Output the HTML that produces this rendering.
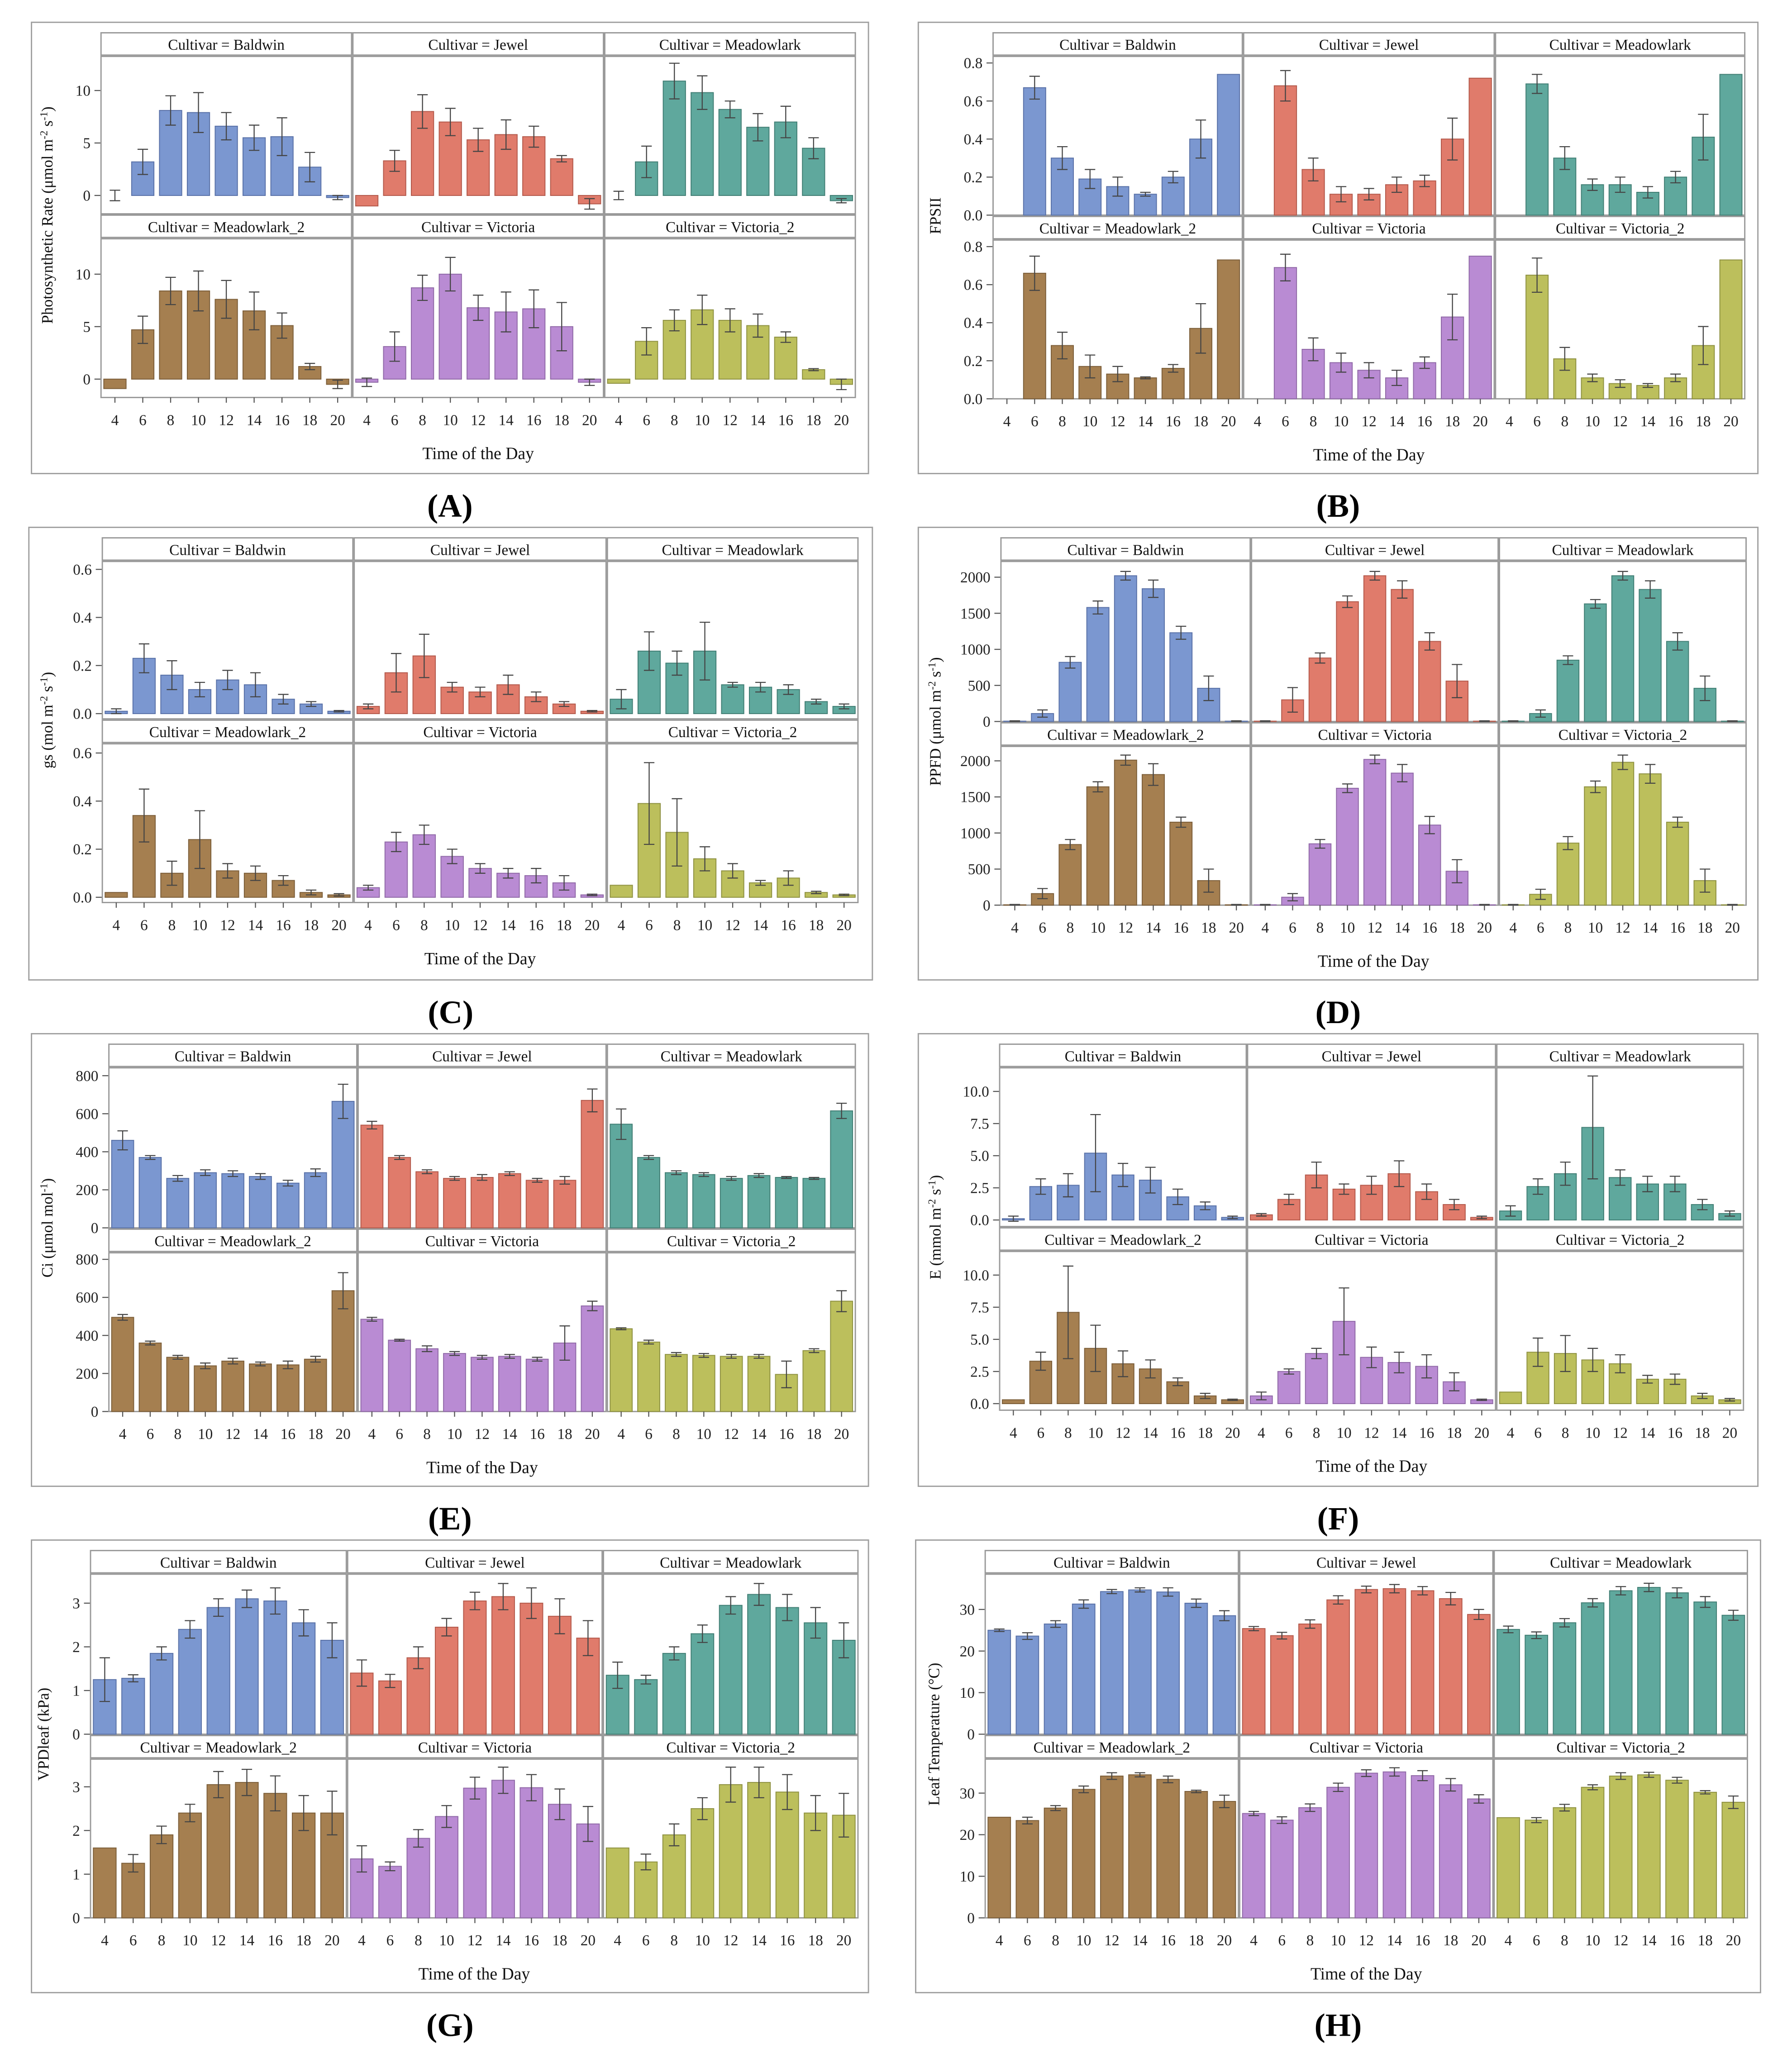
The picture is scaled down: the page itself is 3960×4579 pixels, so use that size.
<!DOCTYPE html>
<html><head><meta charset="utf-8"><style>
html,body{margin:0;padding:0;background:#fff;}
svg{display:block;font-family:"Liberation Serif",serif;}
</style></head><body>
<svg id="fig" width="3960" height="4579" viewBox="0 0 1366 1579.5" preserveAspectRatio="none" xmlns="http://www.w3.org/2000/svg"></svg>
<script>
const categories=[4,6,8,10,12,14,16,18,20];
const cultivars=["Baldwin","Jewel","Meadowlark","Meadowlark_2","Victoria","Victoria_2"];
const aVals=[[0.0,3.2,8.1,7.9,6.6,5.5,5.6,2.7,-0.2],[-1.0,3.3,8.0,7.0,5.3,5.8,5.6,3.5,-0.8],[0.0,3.2,10.9,9.8,8.2,6.5,7.0,4.5,-0.5],[-0.9,4.7,8.4,8.4,7.6,6.5,5.1,1.2,-0.5],[-0.3,3.1,8.7,10.0,6.8,6.4,6.7,5.0,-0.3],[-0.4,3.6,5.6,6.6,5.6,5.1,4.0,0.9,-0.5]];
const aErr=[[0.5,1.2,1.4,1.9,1.3,1.2,1.8,1.4,0.2],[0,1,1.6,1.3,1.1,1.4,1,0.3,0.5],[0.4,1.5,1.7,1.6,0.8,1.3,1.5,1,0.2],[0,1.3,1.3,1.9,1.8,1.8,1.2,0.3,0.4],[0.4,1.4,1.2,1.6,1.2,1.9,1.8,2.3,0.3],[0,1.3,1,1.4,1.1,1.1,0.5,0.1,0.5]];
const bVals=[[0,.67,.30,.19,.15,.11,.20,.40,.74],[0,.68,.24,.11,.11,.16,.18,.40,.72],[0,.69,.30,.16,.16,.12,.20,.41,.74],[0,.66,.28,.17,.13,.11,.16,.37,.73],[0,.69,.26,.19,.15,.11,.19,.43,.75],[0,.65,.21,.11,.08,.07,.11,.28,.73]];
const bErr=[[0,.06,.06,.05,.05,.01,.03,.1,0],[0,.08,.06,.04,.03,.04,.03,.11,0],[0,.05,.06,.03,.04,.03,.03,.12,0],[0,.09,.07,.06,.04,.005,.02,.13,0],[0,.07,.06,.05,.04,.04,.03,.12,0],[0,.09,.06,.02,.02,.01,.02,.1,0]];
const cVals=[[.01,.23,.16,.10,.14,.12,.06,.04,.01],[.03,.17,.24,.11,.09,.12,.07,.04,.01],[.06,.26,.21,.26,.12,.11,.10,.05,.03],[.02,.34,.10,.24,.11,.10,.07,.02,.01],[.04,.23,.26,.17,.12,.10,.09,.06,.01],[.05,.39,.27,.16,.11,.06,.08,.02,.01]];
const cErr=[[.01,.06,.06,.03,.04,.05,.02,.01,.003],[.01,.08,.09,.02,.02,.04,.02,.01,.003],[.04,.08,.05,.12,.01,.02,.02,.01,.01],[0,.11,.05,.12,.03,.03,.02,.01,.005],[.01,.04,.04,.03,.02,.02,.03,.03,.003],[0,.17,.14,.05,.03,.01,.03,.005,.003]];
const dVals=[[5,110,820,1580,2020,1840,1230,460,5],[5,300,880,1660,2020,1830,1110,560,5],[5,110,850,1630,2020,1830,1110,460,5],[5,160,840,1640,2010,1810,1150,340,5],[5,110,850,1620,2020,1830,1110,470,5],[5,150,860,1640,1980,1820,1150,340,5]];
const dErr=[[5,50,80,90,60,120,90,170,5],[5,170,70,80,60,120,120,230,5],[5,50,60,60,60,120,120,170,5],[5,70,70,70,70,150,70,160,5],[5,50,60,60,60,120,120,160,5],[5,70,90,80,100,130,70,160,5]];
const eVals=[[460,370,260,290,285,270,235,290,665],[540,370,295,260,265,285,250,250,670],[545,370,290,280,260,275,265,260,615],[495,360,285,240,265,250,245,275,635],[485,375,330,305,285,290,275,360,555],[435,365,300,295,290,290,195,320,580]];
const eErr=[[50,10,15,15,15,15,15,20,90],[20,10,10,10,15,10,10,20,60],[80,10,10,10,10,10,5,5,40],[15,10,10,15,15,10,20,15,95],[10,5,15,10,10,10,10,90,25],[5,10,10,10,10,10,70,10,55]];
const fVals=[[.1,2.6,2.7,5.2,3.5,3.1,1.8,1.1,.2],[.4,1.6,3.5,2.4,2.7,3.6,2.2,1.2,.2],[.7,2.6,3.6,7.2,3.3,2.8,1.2+1.6,1.2,.5],[.3,3.3,7.1,4.3,3.1,2.7,1.7,.6,.3],[.6,2.5,3.9,6.4,3.6,3.2,2.9,1.7,.3],[.9,4,3.9,3.4,3.1,1.9,1.9,.6,.3]];
const fErr=[[.2,.6,.9,3,.9,1,.6,.3,.1],[.1,.4,1,.4,.7,1,.6,.4,.1],[.4,.6,.9,4,.6,.6,.6,.4,.2],[0,.7,3.6,1.8,1,.7,.3,.2,.05],[.3,.2,.4,2.6,.8,.8,.9,.7,.05],[0,1.1,1.4,.9,.7,.3,.4,.2,.1]];
const gVals=[[1.25,1.28,1.85,2.4,2.9,3.1,3.05,2.55,2.15],[1.4,1.22,1.75,2.45,3.05,3.15,3.0,2.7,2.2],[1.35,1.25,1.85,2.3,2.95,3.2,2.9,2.55,2.15],[1.6,1.25,1.9,2.4,3.05,3.1,2.85,2.4,2.4],[1.35,1.18,1.82,2.32,2.97,3.15,2.98,2.6,2.15],[1.6,1.28,1.9,2.5,3.05,3.1,2.88,2.4,2.35]];
const gErr=[[.5,.08,.15,.2,.2,.2,.3,.3,.4],[.3,.15,.25,.2,.2,.3,.35,.4,.4],[.3,.1,.15,.2,.2,.25,.3,.35,.4],[0,.2,.2,.2,.3,.3,.4,.4,.5],[.3,.1,.2,.25,.25,.3,.3,.35,.4],[0,.18,.25,.25,.4,.35,.4,.4,.5]];
const hVals=[[25,23.6,26.5,31.3,34.3,34.7,34.2,31.5,28.5],[25.4,23.7,26.5,32.3,34.8,35,34.5,32.6,28.8],[25.2,23.8,26.8,31.6,34.5,35.3,34,31.8,28.6],[24.2,23.4,26.4,30.9,34.1,34.4,33.3,30.4,28],[25.1,23.5,26.5,31.4,34.8,35.1,34.2,32,28.6],[24.1,23.5,26.5,31.4,34.1,34.4,33.1,30.2,27.8]];
const hErr=[[.3,.8,.8,1,.5,.5,1,1,1.2],[.5,.8,1,1,.8,1,1,1.5,1.2],[.8,.8,1,1,1,1,1.2,1.3,1.2],[0,.8,.6,.8,.8,.5,.8,.3,1.5],[.5,.8,.9,1,.8,1,1.2,1.5,1],[0,.6,.8,.6,.8,.6,.7,.4,1.5]];
const aTicks=[0,5,10],bTicks=[0,.2,.4,.6,.8],cTicks=[0,.2,.4,.6],dTicks=[0,500,1000,1500,2000],eTicks=[0,200,400,600,800],fTicks=[0,2.5,5,7.5,10],gTicks=[0,1,2,3],hTicks=[0,10,20,30];

const fills=["#7b97d0","#e07b6b","#5fa89d","#a57f50","#b98bd3","#bcbf5c"];
const strokes=["#5a72a8","#b45a4c","#427f75","#7d5f3a","#916aa8","#8f9242"];
const NS="http://www.w3.org/2000/svg";
const svg=document.getElementById('fig');
function mk(tag,attrs,parent,txt){const e=document.createElementNS(NS,tag);for(const k in attrs)e.setAttribute(k,attrs[k]);if(txt!==undefined)e.textContent=txt;(parent||svg).appendChild(e);return e;}

const panels=[
 {id:"A",vals:aVals,err:aErr,ticks:aTicks,fmt:v=>String(v),box:[24,17,662,361],cols:[77,268,460,652],hdr:25,bot:163,zero:149,ppu:8,title:["Photosynthetic Rate (μmol m","-2"," s","-1",")"],tx:40},
 {id:"B",vals:bVals,err:bErr,ticks:bTicks,fmt:v=>v.toFixed(1),box:[700,17,1340,361],cols:[757,947,1139,1330],hdr:25,bot:164,zero:164,ppu:145,title:["FPSII"],tx:717},
 {id:"C",vals:cVals,err:cErr,ticks:cTicks,fmt:v=>v.toFixed(1),box:[22,402,665,747],cols:[78,269,462,654],hdr:410,bot:548,zero:544,ppu:183.3,title:["gs (mol m","-2"," s","-1",")"],tx:40},
 {id:"D",vals:dVals,err:dErr,ticks:dTicks,fmt:v=>String(v),box:[700,402,1340,747],cols:[763,953,1142,1331],hdr:410,bot:550,zero:550,ppu:0.055,title:["PPFD (μmol m","-2"," s","-1",")"],tx:717},
 {id:"E",vals:eVals,err:eErr,ticks:eTicks,fmt:v=>String(v),box:[24,788,662,1133],cols:[83,272,462,652],hdr:796,bot:936,zero:936,ppu:0.145,title:["Ci (μmol mol","-1",")"],tx:40},
 {id:"F",vals:fVals,err:fErr,ticks:fTicks,fmt:v=>v.toFixed(1),box:[700,788,1340,1133],cols:[762,950,1140,1329],hdr:796,bot:935,zero:930,ppu:9.8,title:["E (mmol m","-2"," s","-1",")"],tx:717},
 {id:"G",vals:gVals,err:gErr,ticks:gTicks,fmt:v=>String(v),box:[24,1174,662,1519],cols:[69,264,459,654],hdr:1182,bot:1322,zero:1322,ppu:33.3,title:["VPDleaf (kPa)"],tx:37},
 {id:"H",vals:hVals,err:hErr,ticks:hTicks,fmt:v=>String(v),box:[698,1174,1342,1519],cols:[751,944,1138,1332],hdr:1182,bot:1322,zero:1322,ppu:3.17,title:["Leaf Temperature (°C)"],tx:716}
];

panels.forEach(p=>{
 const g=mk('g',{});
 
 
 const [bx0,by0,bx1,by1]=p.box;
 const fr=mk('rect',{x:bx0,y:by0,width:bx1-bx0,height:by1-by0,fill:'none',stroke:'#a0a0a0','stroke-width':1},g);
 
 const lab=mk('text',{x:(bx0+bx1)/2,y:by1+33,'text-anchor':'middle','font-size':25,'font-weight':'bold',fill:'#000'},g,'('+p.id+')');
 
 const rowOff=140;
 const axisL=p.cols[0];
 for(let r=0;r<2;r++){
  const hdrTop=r===0?p.hdr:p.bot+1;
  const plotTop=hdrTop+18;
  const plotBot=p.bot+r*rowOff;
  const zero=p.zero+r*rowOff;
  const yOf=v=>zero-v*p.ppu;
  // y ticks
  p.ticks.forEach(t=>{
   const y=yOf(t);
   mk('line',{x1:axisL-5,x2:axisL,y1:y,y2:y,stroke:'#555','stroke-width':0.8},g);
   const tl=mk('text',{x:axisL-8,y:y+4,'text-anchor':'end','font-size':11.5,fill:'#222'},g,p.fmt(t));
   
  });
  for(let c=0;c<3;c++){
   const ci=r*3+c;
   const x0=p.cols[c]+(c>0?1:0),x1=p.cols[c+1];
   const hd=mk('rect',{x:x0,y:hdrTop,width:x1-x0,height:17,fill:'#fff',stroke:'#999','stroke-width':1},g);
   
   const ht=mk('text',{x:(x0+x1)/2,y:hdrTop+13,'text-anchor':'middle','font-size':11.5,fill:'#111'},g,'Cultivar = '+cultivars[ci]);
   
   const pr=mk('rect',{x:x0,y:plotTop,width:x1-x0,height:plotBot-plotTop,fill:'#fff',stroke:'#999','stroke-width':1},g);
   
   const band=(x1-x0)/categories.length;
   categories.forEach((cat,i)=>{
    const v=p.vals[ci][i],e=p.err[ci][i];
    const cx=x0+band*(i+0.5);
    const w=band*0.8;
    const ya=yOf(v),yz=zero;
    if(Math.abs(ya-yz)>0.2){
     const b=mk('rect',{x:cx-w/2,y:Math.min(ya,yz),width:w,height:Math.abs(ya-yz),fill:fills[ci],stroke:strokes[ci],'stroke-width':0.7},g);
     
     
    }
    if(e>0){
     const y1=yOf(v+e),y2=yOf(v-e);
     const eb=mk('path',{d:`M${cx},${y1}V${y2}M${cx-4},${y1}H${cx+4}M${cx-4},${y2}H${cx+4}`,stroke:'#444','stroke-width':0.8,fill:'none'},g);
     
    }
    if(r===1){
     mk('line',{x1:cx,x2:cx,y1:plotBot,y2:plotBot+4,stroke:'#555','stroke-width':0.8},g);
     const xl=mk('text',{x:cx,y:plotBot+21,'text-anchor':'middle','font-size':11.5,fill:'#222'},g,String(cat));
     
    }
   });
  }
 }
 const bot2=p.bot+rowOff;
 const xt=mk('text',{x:(p.cols[0]+p.cols[3])/2,y:bot2+47,'text-anchor':'middle','font-size':13,fill:'#111'},g,'Time of the Day');
 
 const cy=(p.hdr+bot2)/2;
 const yt=mk('text',{x:p.tx,y:cy,'text-anchor':'middle','font-size':12,fill:'#111',transform:`rotate(-90 ${p.tx} ${cy})`},g);
 
 p.title.forEach((s,i)=>{
  const sup=/^-?\d$/.test(s);
  const ts=mk('tspan',sup?{'font-size':8,dy:-4}:(i>0&&/^-?\d$/.test(p.title[i-1])?{dy:4}:{}),yt,s);
 });
});
</script>
</body></html>
